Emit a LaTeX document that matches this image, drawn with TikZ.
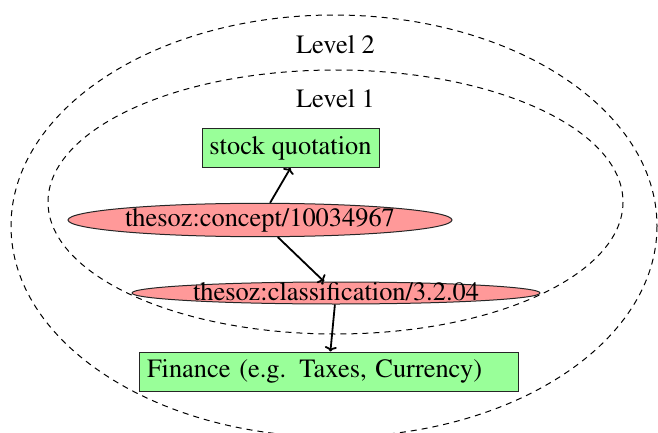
\documentclass[tikz,border=0pt]{standalone}
\usepackage[T1]{fontenc}
\usepackage{mathptmx}
\usetikzlibrary{shapes.geometric,arrows.meta}
\begin{document}
\begin{tikzpicture}[x=1pt,y=-1pt,
  every node/.style={font=\rmfamily\fontsize{26.4}{30}\selectfont},
  level/.style={dashed,line width=1pt,dash pattern=on 6pt off 5pt},
  greenbox/.style={draw=black!85,line width=1pt,fill=green!40,rectangle,minimum height=39pt},
  redell/.style={draw=black!85,line width=1pt,fill=red!40,ellipse,inner sep=0pt},
  conn/.style={line width=1.8pt,-{To[length=5pt,width=12pt]}}]
\useasboundingbox (0,0) rectangle (658,433);
\begin{scope}
\clip (0,0) rectangle (658,433);
\draw[level] (334,226) ellipse [x radius=323, y radius=211];
\draw[level] (335.5,202) ellipse [x radius=287.5, y radius=132];
\end{scope}
\node[anchor=base] (lv2) at (335.5,54) {Level 2};
\node[anchor=base] (lv1) at (335.5,108) {Level 1};
\node[greenbox,minimum width=177pt] (stock) at (290.5,148) {stock quotation};
\node[redell,minimum width=384pt,minimum height=33pt] (concept) at (260,220) {thesoz:concept/10034967};
\node[redell,minimum width=408pt,minimum height=22pt,text height=15.5pt,text depth=0pt] (cls) at (336,293) {thesoz:classification/3.2.04};
\node[greenbox,minimum width=379pt,text width=363pt,align=left,inner xsep=8pt] (fin) at (328.5,371.5) {Finance (e.g. Taxes, Currency)};
\draw[conn] (concept) -- (stock.south);
\draw[conn] (concept) -- (cls);
\draw[conn] (cls) -- (fin);
\end{tikzpicture}
\end{document}
